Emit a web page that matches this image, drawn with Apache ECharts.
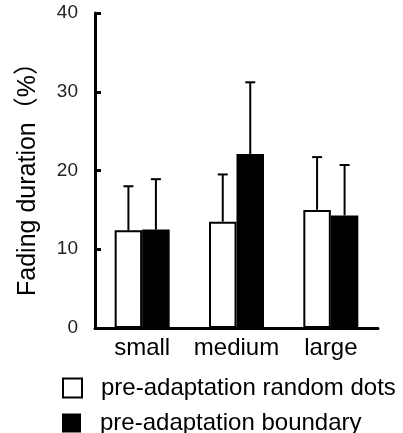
<!DOCTYPE html>
<html>
<head>
<meta charset="utf-8">
<script src="https://cdn.jsdelivr.net/npm/echarts@6/dist/echarts.min.js"></script>
<style>
  html, body { margin: 0; padding: 0; background: #fff; }
  #main { width: 403px; height: 433px; }
</style>
</head>
<body>
<div id="main"></div>
<script>
var categories = ['small', 'medium', 'large']
var seriesNames = ['pre-adaptation random dots', 'pre-adaptation boundary']
var randomDots = [12.4, 13.5, 15.0]
var randomDotsSD = [5.6, 6.0, 6.7]
var boundary = [12.5, 22.1, 14.3]
var boundarySD = [6.4, 9.1, 6.4]
var yTicks = [0, 10, 20, 30, 40]

var FONT = 'Liberation Sans, Arial, Noto Sans CJK SC, sans-serif'
var BAR_W = 27.5

// upper error bar only, drawn at the centre of its bar
function errorBar(offset) {
    return function (params, api) {
        var x = api.coord([api.value(0), 0])[0] + offset
        var low = api.coord([api.value(0), api.value(1)])[1]
        var high = api.coord([api.value(0), api.value(2)])[1]
        return {
            type: 'group',
            children: [
                { type: 'line', shape: { x1: x, y1: low, x2: x, y2: high }, style: { stroke: '#000', lineWidth: 2 } },
                { type: 'line', shape: { x1: x - 5, y1: high, x2: x + 5, y2: high }, style: { stroke: '#000', lineWidth: 2 } }
            ]
        }
    }
}

function errData(means, sds) {
    return means.map(function (m, i) { return [i, m, m + sds[i]] })
}

// one legend box per row, so they stack like the original
function legendRow(name, top) {
    return {
        left: 62,
        top: top,
        padding: 0,
        itemWidth: 19,
        itemHeight: 19,
        icon: 'rect',
        data: [name],
        textStyle: { fontSize: 24, color: '#000', fontFamily: FONT, padding: [0, 0, 0, 14] }
    }
}

var myChart = echarts.init(document.getElementById('main'))

var option = {
    animation: false,
    grid: { left: 95, right: 25, top: 13, bottom: 105 },
    legend: [legendRow(seriesNames[0], 376), legendRow(seriesNames[1], 411)],
    xAxis: {
        type: 'category',
        data: categories,
        axisLine: { lineStyle: { color: '#000', width: 3 } },
        axisTick: { inside: true, length: 7, lineStyle: { color: '#000', width: 3 } },
        axisLabel: { interval: 0, fontSize: 24, color: '#000', fontFamily: FONT, margin: 8 }
    },
    yAxis: {
        type: 'value',
        min: yTicks[0],
        max: yTicks[yTicks.length - 1],
        interval: 10,
        name: 'Fading duration（%）',
        nameLocation: 'middle',
        nameGap: 54,
        nameTextStyle: { fontSize: 25, color: '#000', fontFamily: FONT, padding: [0, 5, 0, 0] },
        axisLine: { show: true, lineStyle: { color: '#000', width: 3 } },
        axisTick: { show: true, inside: true, length: 6, lineStyle: { color: '#000', width: 3 } },
        axisLabel: { fontSize: 19, color: '#222', fontFamily: FONT, margin: 17 },
        splitLine: { show: false }
    },
    series: [
        {
            name: seriesNames[0],
            type: 'bar',
            data: randomDots,
            barWidth: BAR_W,
            barGap: '0%',
            z: 3,
            itemStyle: { color: '#fff', borderColor: '#000', borderWidth: 2 }
        },
        {
            name: seriesNames[1],
            type: 'bar',
            data: boundary,
            barWidth: BAR_W,
            barGap: '0%',
            z: 3,
            itemStyle: { color: '#000', borderColor: '#000', borderWidth: 0 }
        },
        {
            type: 'custom',
            renderItem: errorBar(-BAR_W / 2),
            data: errData(randomDots, randomDotsSD),
            z: 2
        },
        {
            type: 'custom',
            renderItem: errorBar(BAR_W / 2),
            data: errData(boundary, boundarySD),
            z: 2
        }
    ]
}

myChart.setOption(option)
</script>
</body>
</html>
